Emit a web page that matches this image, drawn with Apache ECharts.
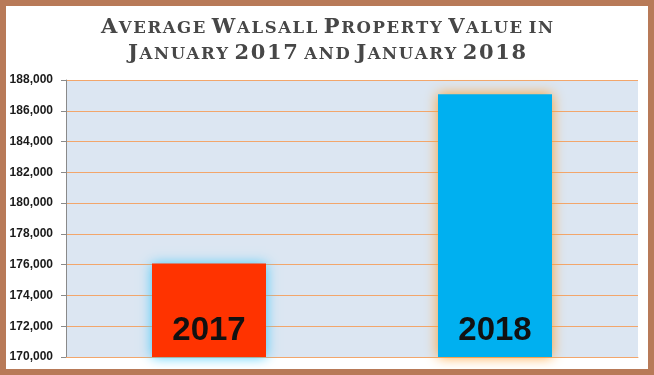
<!DOCTYPE html>
<html>
<head>
<meta charset="utf-8">
<script src="https://cdn.jsdelivr.net/npm/echarts@6/dist/echarts.min.js"></script>
<style>
html,body{margin:0;padding:0;background:#ffffff;}
#chart{width:654px;height:375px;}
</style>
</head>
<body>
<div id="chart"></div>
<script>
const titleLines = ['Average Walsall Property Value in', 'January 2017 and January 2018'];
const categories = ['2017', '2018'];
const values = [176070, 187070];
const barColors = ['#ff3300', '#00b0f0'];
const glowColors = ['#40c8f8', '#ffa030'];
const yMin = 170000;
const yMax = 188000;
const yStep = 2000;

function smallCaps(line) {
  return line.split(' ').map(function (word) {
    return Array.from(word).map(function (ch) {
      const big = /[A-Z0-9]/.test(ch);
      return '{' + (big ? 'b' : 's') + '|' + ch.toUpperCase() + '}';
    }).join('');
  }).join('{sp| }');
}

const chart = echarts.init(document.getElementById('chart'), null, {renderer: 'canvas'});
const titleFont = 'DejaVu Serif';
const titleColor = '#474747';
const gridColor = '#f2a66c';

chart.setOption({
  animation: false,
  backgroundColor: '#ffffff',
  title: {
    text: titleLines.map(smallCaps).join('\n'),
    left: 'center',
    top: 12,
    padding: 0,
    textStyle: {
      rich: {
        b: {fontFamily: titleFont, fontSize: 21, color: titleColor, lineHeight: 26, verticalAlign: 'bottom', padding: [0, 0.8, 0, 0.8]},
        s: {fontFamily: titleFont, fontSize: 16.5, color: titleColor, lineHeight: 26, verticalAlign: 'bottom', padding: [0, 0.8, 1.1, 0.8]},
        sp: {fontFamily: titleFont, fontSize: 14, color: titleColor, lineHeight: 26, verticalAlign: 'bottom'}
      }
    }
  },
  graphic: [{
    type: 'rect',
    shape: {x: 3, y: 3, width: 648, height: 369},
    style: {fill: 'none', stroke: '#b87a58', lineWidth: 6},
    z: 100
  }],
  grid: {
    left: 66, right: 16, top: 80, bottom: 18,
    show: true, backgroundColor: '#dce6f2', borderWidth: 0
  },
  xAxis: {
    type: 'category',
    data: categories,
    axisLabel: {show: false},
    axisTick: {show: false},
    axisLine: {show: true, lineStyle: {color: gridColor, width: 1}}
  },
  yAxis: {
    type: 'value',
    min: yMin, max: yMax, interval: yStep,
    axisLine: {show: true, lineStyle: {color: '#8a8a8a', width: 1}},
    axisTick: {show: true, length: 5, lineStyle: {color: '#8a8a8a'}},
    splitLine: {show: true, lineStyle: {color: gridColor, width: 1}},
    axisLabel: {
      margin: 13,
      color: '#1a1a1a',
      fontFamily: 'Liberation Sans',
      fontWeight: 'bold',
      fontSize: 12,
      formatter: function (v) { return v.toLocaleString('en-US'); }
    }
  },
  series: [{
    type: 'bar',
    barWidth: 114,
    data: values.map(function (v, i) {
      return {
        value: v,
        itemStyle: {color: barColors[i], shadowColor: glowColors[i], shadowBlur: 12, shadowOffsetX: 0, shadowOffsetY: 0}
      };
    }),
    label: {
      show: true,
      position: 'insideBottom',
      distance: 10,
      formatter: '{b}',
      fontFamily: 'Liberation Sans',
      fontWeight: 'bold',
      fontSize: 33,
      color: '#111111'
    }
  }]
});
</script>
</body>
</html>
